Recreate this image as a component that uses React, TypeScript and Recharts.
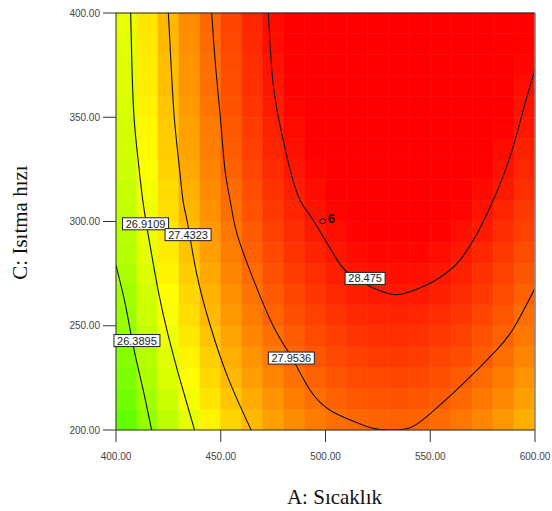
import React from 'react';
import { ComposedChart, Line, XAxis, YAxis, ReferenceArea, ReferenceDot, ReferenceLine } from 'recharts';

// grid cell centres (A: Sıcaklık, C: Isıtma hızı)
const A_CENTERS = [405, 415, 425, 435, 445, 455, 465, 475, 485, 495, 505, 515, 525, 535, 545, 555, 565, 575, 585, 595];
const C_CENTERS = [205, 215, 225, 235, 245, 255, 265, 275, 285, 295, 305, 315, 325, 335, 345, 355, 365, 375, 385, 395];

// response, bottom row (C=205) first
const RESPONSE = [
  [26.02, 26.32, 26.59, 26.84, 27.07, 27.27, 27.44, 27.59, 27.72, 27.82, 27.90, 27.95, 27.98, 27.99, 27.97, 27.93, 27.86, 27.76, 27.65, 27.51],
  [26.11, 26.41, 26.68, 26.93, 27.16, 27.36, 27.53, 27.68, 27.81, 27.91, 27.99, 28.04, 28.07, 28.08, 28.06, 28.02, 27.95, 27.85, 27.74, 27.60],
  [26.19, 26.49, 26.76, 27.01, 27.24, 27.44, 27.61, 27.76, 27.89, 27.99, 28.07, 28.12, 28.15, 28.16, 28.14, 28.10, 28.03, 27.93, 27.82, 27.68],
  [26.24, 26.54, 26.82, 27.07, 27.30, 27.50, 27.68, 27.83, 27.96, 28.06, 28.14, 28.20, 28.23, 28.24, 28.22, 28.18, 28.12, 28.02, 27.91, 27.77],
  [26.31, 26.61, 26.89, 27.14, 27.37, 27.57, 27.75, 27.90, 28.03, 28.13, 28.21, 28.27, 28.30, 28.31, 28.29, 28.25, 28.19, 28.09, 27.98, 27.84],
  [26.38, 26.68, 26.96, 27.21, 27.44, 27.64, 27.82, 27.97, 28.10, 28.20, 28.28, 28.34, 28.37, 28.38, 28.36, 28.32, 28.26, 28.16, 28.05, 27.91],
  [26.42, 26.72, 27.00, 27.25, 27.48, 27.69, 27.87, 28.03, 28.16, 28.26, 28.35, 28.41, 28.44, 28.45, 28.44, 28.40, 28.33, 28.24, 28.13, 28.00],
  [26.48, 26.78, 27.06, 27.31, 27.54, 27.75, 27.93, 28.09, 28.22, 28.32, 28.41, 28.47, 28.50, 28.51, 28.50, 28.46, 28.39, 28.30, 28.19, 28.06],
  [26.54, 26.84, 27.12, 27.37, 27.60, 27.81, 27.99, 28.15, 28.28, 28.38, 28.47, 28.53, 28.56, 28.57, 28.56, 28.52, 28.45, 28.36, 28.25, 28.12],
  [26.57, 26.87, 27.15, 27.41, 27.64, 27.85, 28.03, 28.19, 28.32, 28.43, 28.52, 28.58, 28.62, 28.63, 28.62, 28.58, 28.52, 28.43, 28.32, 28.19],
  [26.62, 26.92, 27.20, 27.46, 27.69, 27.90, 28.08, 28.24, 28.37, 28.48, 28.57, 28.63, 28.67, 28.68, 28.67, 28.63, 28.57, 28.48, 28.37, 28.24],
  [26.64, 26.94, 27.23, 27.49, 27.72, 27.93, 28.11, 28.28, 28.41, 28.52, 28.61, 28.68, 28.72, 28.73, 28.72, 28.69, 28.63, 28.54, 28.44, 28.31],
  [26.69, 26.99, 27.28, 27.54, 27.77, 27.98, 28.16, 28.33, 28.46, 28.57, 28.66, 28.73, 28.77, 28.78, 28.77, 28.74, 28.68, 28.59, 28.49, 28.36],
  [26.73, 27.03, 27.32, 27.58, 27.81, 28.02, 28.20, 28.37, 28.50, 28.61, 28.70, 28.77, 28.81, 28.82, 28.81, 28.78, 28.72, 28.63, 28.53, 28.40],
  [26.73, 27.04, 27.33, 27.59, 27.83, 28.04, 28.23, 28.39, 28.53, 28.64, 28.74, 28.80, 28.84, 28.86, 28.85, 28.82, 28.76, 28.68, 28.58, 28.45],
  [26.77, 27.08, 27.37, 27.63, 27.87, 28.08, 28.27, 28.43, 28.57, 28.68, 28.78, 28.84, 28.88, 28.90, 28.89, 28.86, 28.80, 28.72, 28.62, 28.49],
  [26.80, 27.11, 27.40, 27.66, 27.90, 28.11, 28.30, 28.46, 28.60, 28.71, 28.81, 28.87, 28.91, 28.93, 28.92, 28.89, 28.83, 28.75, 28.65, 28.52],
  [26.80, 27.11, 27.40, 27.67, 27.90, 28.12, 28.31, 28.48, 28.62, 28.73, 28.83, 28.90, 28.94, 28.96, 28.95, 28.92, 28.87, 28.79, 28.69, 28.56],
  [26.83, 27.14, 27.43, 27.70, 27.93, 28.15, 28.34, 28.51, 28.65, 28.76, 28.86, 28.93, 28.97, 28.99, 28.98, 28.95, 28.90, 28.82, 28.72, 28.59],
  [26.85, 27.16, 27.45, 27.72, 27.95, 28.17, 28.36, 28.53, 28.67, 28.78, 28.88, 28.95, 28.99, 29.01, 29.00, 28.97, 28.92, 28.84, 28.74, 28.61],
];

// contour lines
const C_26_3895 = [
  { x: 400, y: 279 }, { x: 404.5, y: 260 }, { x: 408.3, y: 240 }, { x: 412.8, y: 220 }, { x: 417, y: 200 },
];
const C_26_9109 = [
  { x: 407, y: 400 }, { x: 407.6, y: 375 }, { x: 408.6, y: 350 }, { x: 410.5, y: 330 }, { x: 412.8, y: 310 },
  { x: 416, y: 290 }, { x: 420.5, y: 265 }, { x: 425, y: 245 }, { x: 430.3, y: 225 }, { x: 437.5, y: 200 },
];
const C_27_4323 = [
  { x: 425, y: 400 }, { x: 426.3, y: 375 }, { x: 427.8, y: 350 }, { x: 429.8, y: 330 }, { x: 432, y: 310 },
  { x: 434, y: 300 }, { x: 438.5, y: 275 }, { x: 445, y: 250 }, { x: 453.5, y: 225 }, { x: 464.5, y: 200 },
];
const C_27_9536 = [
  { x: 445.7, y: 400 }, { x: 447.5, y: 375 }, { x: 449.8, y: 350 }, { x: 452, y: 325 }, { x: 454.5, y: 310 },
  { x: 457.5, y: 295 }, { x: 464.5, y: 275 }, { x: 475, y: 250 }, { x: 484, y: 234.5 }, { x: 492.6, y: 219.2 },
  { x: 502, y: 209.6 }, { x: 513, y: 204.3 }, { x: 522, y: 201 }, { x: 531, y: 200 }, { x: 540, y: 201 },
  { x: 548.3, y: 206.4 }, { x: 564.2, y: 220.8 }, { x: 581.7, y: 238.4 }, { x: 590.5, y: 250 }, { x: 600, y: 268 },
];
const C_28_475 = [
  { x: 472.7, y: 400 }, { x: 475, y: 366 }, { x: 479.1, y: 342.3 }, { x: 483.6, y: 323 }, { x: 488, y: 310 },
  { x: 492.6, y: 303 }, { x: 496.8, y: 296.2 }, { x: 501, y: 289.2 }, { x: 505.1, y: 282.3 }, { x: 509.5, y: 276.5 },
  { x: 518, y: 270.5 }, { x: 531.6, y: 265.1 }, { x: 540, y: 266.2 }, { x: 548.3, y: 269.5 }, { x: 557, y: 274.8 },
  { x: 564.2, y: 281.5 }, { x: 572.5, y: 294.5 }, { x: 580.1, y: 310.3 }, { x: 588.1, y: 331 }, { x: 594.4, y: 353.5 },
  { x: 600, y: 373 },
];
const CONTOURS = [C_26_3895, C_26_9109, C_27_4323, C_27_9536, C_28_475];

const LEVEL_TAGS = [
  { x: 410.0, y: 242.9, text: '26.3895' },
  { x: 414.1, y: 298.9, text: '26.9109' },
  { x: 434.4, y: 293.7, text: '27.4323' },
  { x: 483.7, y: 234.5, text: '27.9536' },
  { x: 518.9, y: 272.7, text: '28.475' },
];

const DESIGN_POINT = { x: 500, y: 300, count: 6 };

const X_TICKS = [400, 450, 500, 550, 600];
const Y_TICKS = [200, 250, 300, 350, 400];

const SANS = 'Liberation Sans, Arial, sans-serif';
const SERIF = 'Liberation Serif, Times New Roman, serif';

// green -> yellow -> red
const heat = (v: number) => {
  const clamp = (n: number) => Math.max(0, Math.min(255, Math.round(n)));
  if (v < 27.0) {
    const r = clamp((255 * (v - 25.4)) / 1.6);
    return `rgb(${r},255,0)`;
  }
  const g = clamp(255 * (1 - (v - 27.0) / 1.6));
  return `rgb(255,${g},0)`;
};

const LevelTag = ({ cx, cy, text }: any) => {
  const w = text.length * 6 + 4;
  return (
    <g>
      <rect x={cx - w / 2} y={cy - 6} width={w} height={12} fill="#fff" stroke="#222" strokeWidth={1} />
      <text x={cx} y={cy + 4} textAnchor="middle" fontSize={11} fontFamily={SANS} fill="#222">
        {text}
      </text>
    </g>
  );
};

const PointMark = ({ cx, cy, count }: any) => (
  <g>
    <ellipse cx={cx - 2.8} cy={cy - 0.3} rx={3} ry={2.5} fill="none" stroke="#111" strokeWidth={1} />
    <text x={cx + 2.2} y={cy + 1.8} fontSize={13} fontWeight="bold" fontFamily={SANS} fill="#111">
      {count}
    </text>
  </g>
);

const XTitle = (props: any) => {
  const vb = props.viewBox;
  return (
    <text x={vb.x + vb.width / 2 + 9} y={vb.y + 74} textAnchor="middle" fontSize={21} fontFamily={SERIF} fill="#111">
      A: Sıcaklık
    </text>
  );
};

const YTitle = (props: any) => {
  const vb = props.viewBox;
  const x = 27;
  const y = vb.y + vb.height / 2 + 1;
  return (
    <text x={x} y={y} transform={`rotate(-90, ${x}, ${y})`} textAnchor="middle" fontSize={21} fontFamily={SERIF} fill="#111">
      C: Isıtma hızı
    </text>
  );
};

export default function App() {
  return (
    <div style={{ position: 'absolute', left: 0, top: 0, width: 552, height: 511, background: '#fff' }}>
      <ComposedChart width={552} height={511} margin={{ top: 13, right: 17, bottom: 51, left: 0 }}>
        {RESPONSE.map((row, i) =>
          row.map((v, j) => (
            <ReferenceArea
              key={`cell-${i}-${j}`}
              x1={A_CENTERS[j] - 5}
              x2={A_CENTERS[j] + 5}
              y1={C_CENTERS[i] - 5}
              y2={C_CENTERS[i] + 5}
              fill={heat(v)}
              fillOpacity={1}
              stroke={heat(v)}
              strokeWidth={0.6}
            />
          ))
        )}
        <XAxis
          dataKey="x"
          type="number"
          domain={[400, 600]}
          ticks={X_TICKS}
          allowDataOverflow
          tickFormatter={(v: number) => v.toFixed(2)}
          tickSize={12}
          tickMargin={11}
          height={30}
          stroke="#333"
          tick={{ fill: '#444', fontSize: 10, fontFamily: SANS }}
          label={XTitle}
        />
        <YAxis
          type="number"
          domain={[200, 400]}
          ticks={Y_TICKS}
          allowDataOverflow
          tickFormatter={(v: number) => v.toFixed(2)}
          tickSize={13}
          tickMargin={3}
          width={116}
          stroke="#333"
          tick={{ fill: '#444', fontSize: 10, fontFamily: SANS }}
          label={YTitle}
        />
        {CONTOURS.map((pts, k) => (
          <Line
            key={`contour-${k}`}
            data={pts}
            dataKey="y"
            type="natural"
            stroke="#111"
            strokeWidth={1.1}
            dot={false}
            activeDot={false}
            isAnimationActive={false}
          />
        ))}
        <ReferenceLine y={400} stroke="#222" strokeWidth={1} />
        <ReferenceLine x={600} stroke="#8a8a8a" strokeWidth={1.5} />
        {LEVEL_TAGS.map((t) => (
          <ReferenceDot
            key={t.text}
            x={t.x}
            y={t.y}
            r={0}
            shape={(p: any) => <LevelTag cx={p.cx} cy={p.cy} text={t.text} />}
          />
        ))}
        <ReferenceDot
          x={DESIGN_POINT.x}
          y={DESIGN_POINT.y}
          r={0}
          shape={(p: any) => <PointMark cx={p.cx} cy={p.cy} count={DESIGN_POINT.count} />}
        />
      </ComposedChart>
    </div>
  );
}
